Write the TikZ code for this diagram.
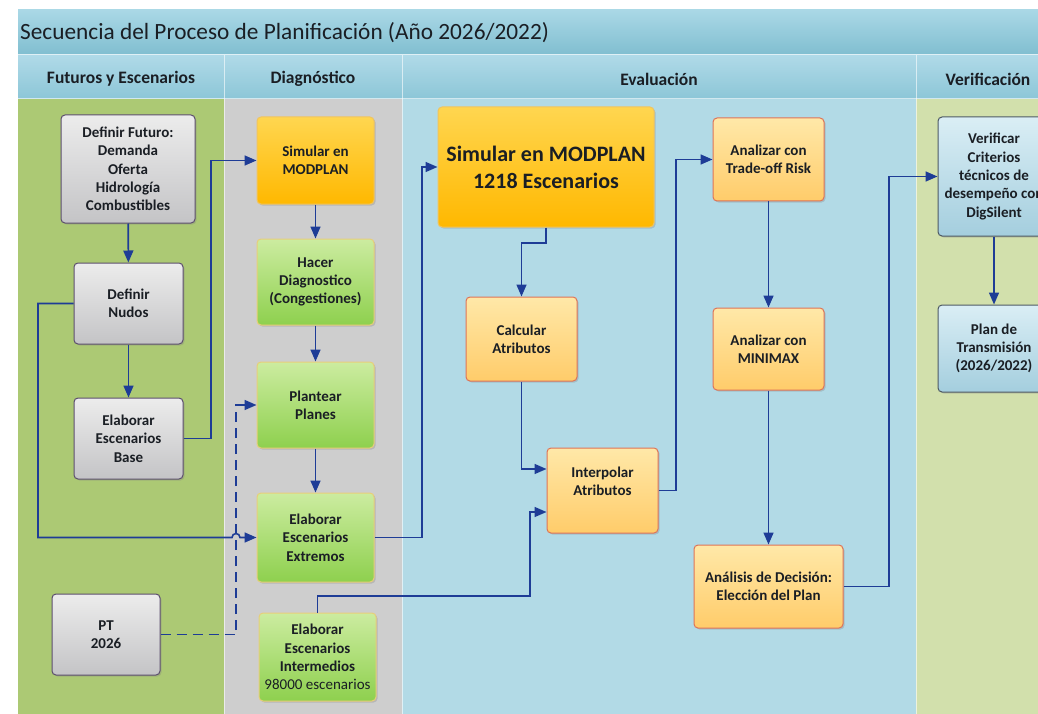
\documentclass[tikz,border=0pt]{standalone}
\usepackage{fontspec}
\setmainfont{Carlito}
\usetikzlibrary{arrows.meta,shadows,calc}

\definecolor{titleTop}{RGB}{170,216,230}
\definecolor{titleBot}{RGB}{128,190,208}
\definecolor{headTop}{RGB}{176,218,232}
\definecolor{headBot}{RGB}{140,198,215}
\definecolor{colFut}{RGB}{172,201,116}
\definecolor{colDia}{RGB}{206,206,206}
\definecolor{colEva}{RGB}{178,218,230}
\definecolor{colVer}{RGB}{210,224,172}
\definecolor{darkText}{RGB}{26,30,36}
\definecolor{flowc}{RGB}{30,60,150}
\definecolor{grayTop}{RGB}{236,236,236}
\definecolor{grayBot}{RGB}{196,196,198}
\definecolor{grayLine}{RGB}{92,78,110}
\definecolor{orTop}{RGB}{255,214,80}
\definecolor{orBot}{RGB}{255,184,0}
\definecolor{orLine}{RGB}{240,196,96}
\definecolor{grTop}{RGB}{204,236,160}
\definecolor{grBot}{RGB}{142,208,78}
\definecolor{grLine}{RGB}{232,206,122}
\definecolor{loTop}{RGB}{255,232,168}
\definecolor{loBot}{RGB}{255,204,106}
\definecolor{loLine}{RGB}{222,116,88}
\definecolor{blTop}{RGB}{218,238,245}
\definecolor{blBot}{RGB}{164,206,222}
\definecolor{blLine}{RGB}{78,90,100}

\tikzset{
  boxbase/.style={rounded corners=4pt, line width=1pt, align=center,
    text=darkText, inner sep=2pt,
    font=\bfseries\fontsize{15}{18.3}\selectfont,
    drop shadow={shadow xshift=1.5pt, shadow yshift=-1.5pt, opacity=0.3}},
  graybox/.style={boxbase, draw=grayLine, top color=grayTop, bottom color=grayBot},
  orbox/.style={boxbase, draw=orLine, top color=orTop, bottom color=orBot},
  grbox/.style={boxbase, draw=grLine, top color=grTop, bottom color=grBot},
  lobox/.style={boxbase, draw=loLine, top color=loTop, bottom color=loBot},
  blbox/.style={boxbase, draw=blLine, top color=blTop, bottom color=blBot},
  colhead/.style={font=\bfseries\fontsize{17.5}{20}\selectfont, text=darkText},
  sep/.style={draw=white, opacity=0.6, line width=1pt},
  flow/.style={draw=flowc, line width=1.6pt, -{Triangle[length=12pt,width=10pt]}},
  flowdash/.style={flow, dash pattern=on 10pt off 6pt}
}

\begin{document}
\begin{tikzpicture}[x=1pt,y=-1pt]
\useasboundingbox (0,0) rectangle (1038,714);
\clip (0,0) rectangle (1038,714);
\fill[white] (0,0) rectangle (1038,714);

% title and column header bands
\shade[top color=titleTop, bottom color=titleBot] (18,10) rectangle (1038,55);
\shade[top color=headTop, bottom color=headBot] (18,55) rectangle (1038,99);

% column bodies
\fill[colFut] (18,99) rectangle (224,714);
\fill[colDia] (224,99) rectangle (402,714);
\fill[colEva] (402,99) rectangle (916,714);
\fill[colVer] (916,99) rectangle (1038,714);

% separators
\draw[sep] (18,55) -- (1038,55);
\draw[sep] (18,99) -- (1038,99);
\draw[sep] (224,55) -- (224,714);
\draw[sep] (402,55) -- (402,714);
\draw[sep] (916,55) -- (916,714);

% title
\node[anchor=base west, font=\fontsize{23.3}{26}\selectfont, text=darkText, inner sep=0pt]
  (title) at (20,40) {Secuencia del Proceso de Planificación (Año 2026/2022)};

% column headers
\node[colhead] (hfut) at (121,79) {Futuros y Escenarios};
\node[colhead] (hdia) at (313,79) {Diagnóstico};
\node[colhead] (heva) at (659,79) {Evaluación};
\node[colhead] (hver) at (988,79) {Verificación};

% Futuros y Escenarios
\node[graybox, minimum width=134pt, minimum height=108pt] (fut) at (128,169)
  {Definir Futuro:\\Demanda\\Oferta\\Hidrología\\Combustibles};
\node[graybox, minimum width=109pt, minimum height=81pt] (nud) at (128.5,303.5)
  {Definir\\Nudos};
\node[graybox, minimum width=109pt, minimum height=81pt] (base) at (128.5,438.5)
  {Elaborar\\Escenarios\\Base};
\node[graybox, minimum width=108pt, minimum height=81pt] (pt) at (106,634.5)
  {PT\\2026};

% Diagnostico
\node[orbox, minimum width=117pt, minimum height=87pt] (sim) at (315.5,160.5)
  {Simular en\\MODPLAN};
\node[grbox, minimum width=117pt, minimum height=86pt] (diag) at (315.5,282)
  {Hacer\\Diagnostico\\(Congestiones)};
\node[grbox, minimum width=117pt, minimum height=86pt] (plan) at (315.5,405)
  {Plantear\\Planes};
\node[grbox, minimum width=117pt, minimum height=89pt] (ext) at (315.5,537.5)
  {Elaborar\\Escenarios\\Extremos};
\node[grbox, minimum width=117pt, minimum height=88pt] (inter) at (317.5,657)
  {Elaborar\\Escenarios\\Intermedios\\{\mdseries 98000 escenarios}};

% Evaluacion
\node[orbox, minimum width=216pt, minimum height=120pt,
      font=\bfseries\fontsize{22}{27}\selectfont] (big) at (546,167)
  {Simular en MODPLAN\\1218 Escenarios};
\node[lobox, minimum width=111pt, minimum height=84pt] (calc) at (521.5,339)
  {Calcular\\Atributos};
\node[lobox, minimum width=111pt, minimum height=85pt] (interp) at (602.5,490.5)
  {Interpolar\\Atributos\\\mbox{}};
\node[lobox, minimum width=111pt, minimum height=83pt] (trade) at (768.5,159.5)
  {Analizar con\\Trade-off Risk};
\node[lobox, minimum width=111pt, minimum height=82pt] (mini) at (768.5,349)
  {Analizar con\\MINIMAX};
\node[lobox, minimum width=149pt, minimum height=83pt] (dec) at (768.5,586.5)
  {Análisis de Decisión:\\Elección del Plan};

% Verificacion (the box runs past the right edge)
\node[blbox, minimum width=112pt, minimum height=119pt] (ver) at (994,176.5)
  {Verificar\\Criterios\\técnicos de\\desempeño con\\DigSilent};
\node[blbox, minimum width=112pt, minimum height=87pt] (ptx) at (994,348.5)
  {Plan de\\Transmisión\\(2026/2022)};

% connectors
\draw[flow] (fut) -- (nud);
\draw[flow] (nud) -- (base);
\draw[flow] (base.east) -- (211,438.5) |- (sim.west);
\draw[flow] (nud.west) -- (38,303.5) -- (38,537.5) -- (232,537.5)
  arc[start angle=180, end angle=360, radius=4] -- (ext.west);
\draw[flowdash] (pt.east) -- (236,634.5) -- (236,405) -- (plan.west);
\draw[flow] (sim) -- (diag);
\draw[flow] (diag) -- (plan);
\draw[flow] (plan) -- (ext);
\draw[flow] (ext.east) -- (422,537.5) |- (big.west);
\draw[flow] (inter.north) -- (317.5,596) -- (530,596) -- (530,512)
  -- ([yshift=-21.5pt]interp.west);
\draw[flow] (big.south) -- (546,243) -| (calc.north);
\draw[flow] (calc.south) -- (521.5,469) -- ([yshift=21.5pt]interp.west);
\draw[flow] (interp.east) -- (676,490.5) |- (trade.west);
\draw[flow] (trade) -- (mini);
\draw[flow] (mini) -- (dec);
\draw[flow] (dec.east) -- (889,586.5) |- (ver.west);
\draw[flow] (ver) -- (ptx);
\end{tikzpicture}
\end{document}
